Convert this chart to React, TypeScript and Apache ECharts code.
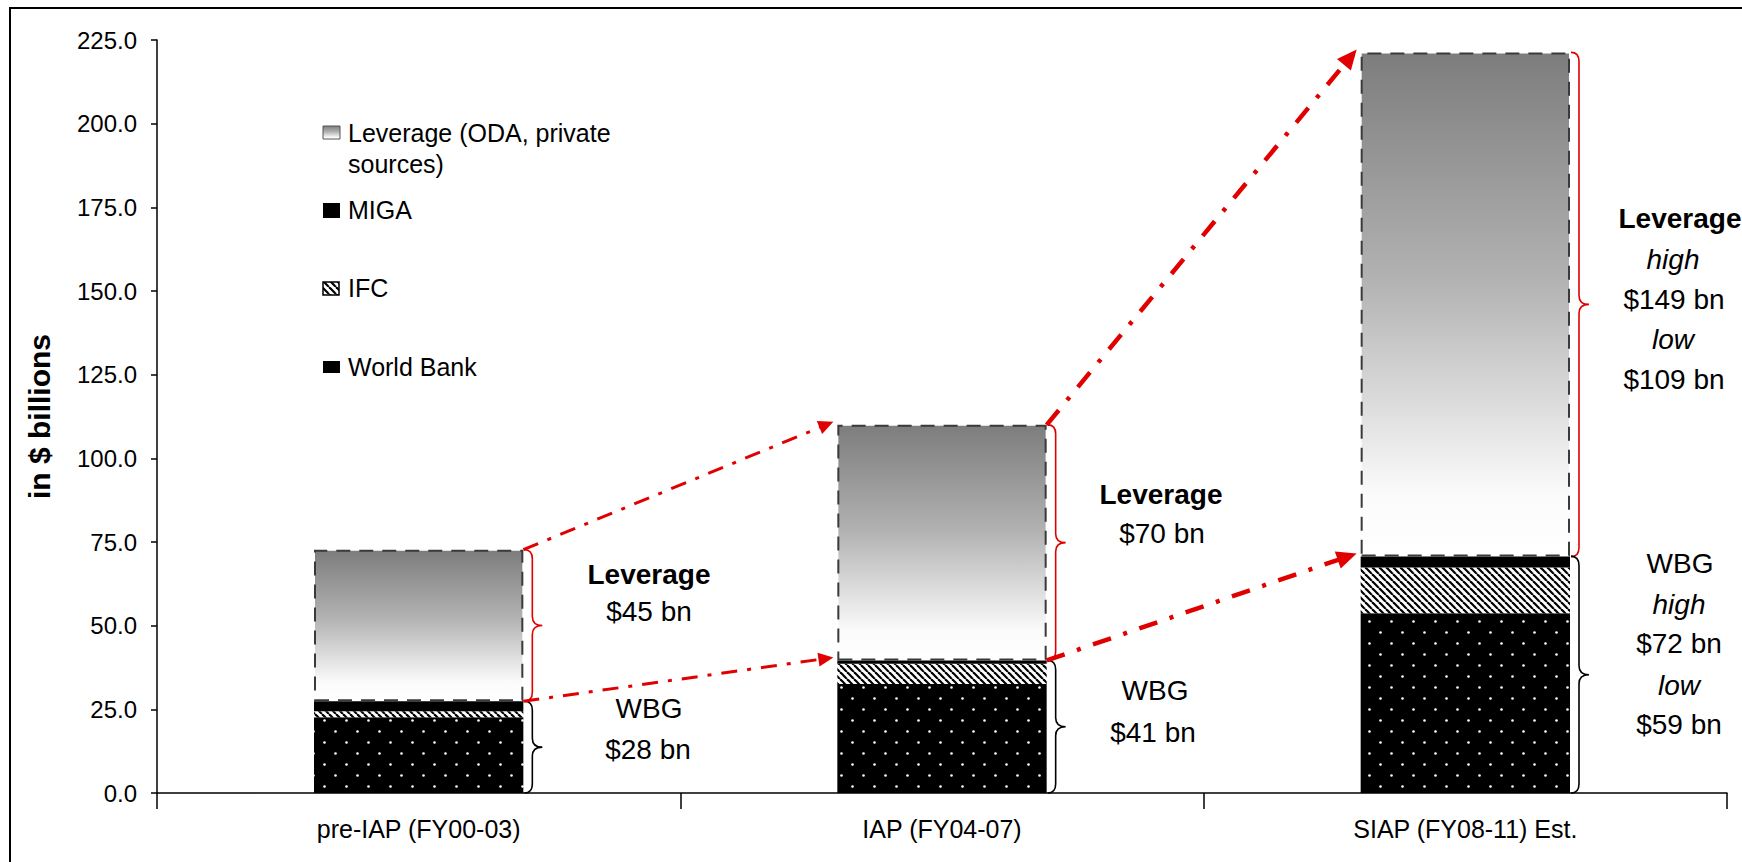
import React, { useEffect, useRef } from "react";
import * as echarts from "echarts";

// ---------- data ----------
const CATEGORIES = ["pre-IAP (FY00-03)", "IAP (FY04-07)", "SIAP (FY08-11) Est."];
const WORLD_BANK = [22.6, 32.6, 53.7];
const IFC = [1.8, 6.0, 13.7];
const MIGA = [3.0, 1.0, 3.3];
const LEVERAGE = [45.3, 70.4, 150.6];
const Y_MIN = 0;
const Y_MAX = 225;
const Y_INTERVAL = 25;
const LEGEND_LABELS = ["Leverage (ODA, private\nsources)", "MIGA", "IFC", "World Bank"];

const FONT = '"Liberation Sans", Arial, Helvetica, sans-serif';
const RED = "#e00000";
const BAR_FRAC = 0.4;

const wbgTop = WORLD_BANK.map((v, i) => v + IFC[i] + MIGA[i]);
const totalTop = wbgTop.map((v, i) => v + LEVERAGE[i]);

function makeDots(): HTMLCanvasElement {
  const c = document.createElement("canvas");
  c.width = 22;
  c.height = 22;
  const g = c.getContext("2d")!;
  g.fillStyle = "#000";
  g.fillRect(0, 0, 22, 22);
  g.fillStyle = "#fff";
  g.beginPath();
  g.arc(5.5, 5.5, 1.3, 0, Math.PI * 2);
  g.fill();
  g.beginPath();
  g.arc(16.5, 16.5, 1.3, 0, Math.PI * 2);
  g.fill();
  return c;
}

function makeHatch(): HTMLCanvasElement {
  const s = 7;
  const c = document.createElement("canvas");
  c.width = s;
  c.height = s;
  const g = c.getContext("2d")!;
  g.fillStyle = "#fff";
  g.fillRect(0, 0, s, s);
  g.strokeStyle = "#000";
  g.lineWidth = 2.2;
  for (const o of [-s, 0, s]) {
    g.beginPath();
    g.moveTo(o, 0);
    g.lineTo(o + s, s);
    g.stroke();
  }
  return c;
}

function leverageGradient() {
  return new echarts.graphic.LinearGradient(0, 0, 0, 1, [
    { offset: 0, color: "#7d7d7d" },
    { offset: 0.45, color: "#b2b2b2" },
    { offset: 0.88, color: "#fbfbfb" },
    { offset: 1, color: "#ffffff" },
  ]);
}

function braceRender(stroke: string) {
  return (params: any, api: any) => {
    const c = api.value(0);
    const lo = api.value(1);
    const hi = api.value(2);
    const bw = api.size([1, 0])[0] * BAR_FRAC;
    const pt = api.coord([c, hi]);
    const pb = api.coord([c, lo]);
    const x0 = pt[0] + bw / 2 + 1;
    const xm = x0 + 8;
    const xt = x0 + 18;
    const y1 = pt[1];
    const y2 = pb[1];
    const ym = (y1 + y2) / 2;
    const r = 9;
    const d =
      `M${x0},${y1} Q${xm},${y1} ${xm},${y1 + r} L${xm},${ym - r} ` +
      `Q${xm},${ym} ${xt},${ym} Q${xm},${ym} ${xm},${ym + r} ` +
      `L${xm},${y2 - r} Q${xm},${y2} ${x0},${y2}`;
    return {
      type: "path",
      shape: { pathData: d },
      style: { fill: "none", stroke, lineWidth: 1.6 },
    };
  };
}

function arrowRender(thick: boolean) {
  return (params: any, api: any) => {
    const fc = api.value(0);
    const fv = api.value(1);
    const tc = api.value(2);
    const tv = api.value(3);
    const bw = api.size([1, 0])[0] * BAR_FRAC;
    const p0 = api.coord([fc, fv]);
    const p1 = api.coord([tc, tv]);
    const x0 = p0[0] + bw / 2;
    const y0 = p0[1];
    const x1 = p1[0] - bw / 2 - 4;
    const y1 = p1[1] - 3;
    const dx = x1 - x0;
    const dy = y1 - y0;
    const L = Math.hypot(dx, dy);
    const ux = dx / L;
    const uy = dy / L;
    const hl = thick ? 20 : 15;
    const hw = thick ? 9 : 7;
    const bx = x1 - ux * hl;
    const by = y1 - uy * hl;
    return {
      type: "group",
      children: [
        {
          type: "line",
          shape: { x1: x0, y1: y0, x2: bx + ux * 2, y2: by + uy * 2 },
          style: {
            stroke: RED,
            lineWidth: thick ? 4.5 : 3,
            lineDash: thick ? [19, 13, 4, 13] : [16, 10, 4, 10],
            fill: null,
          },
        },
        {
          type: "polygon",
          shape: {
            points: [
              [x1, y1],
              [bx - uy * hw, by + ux * hw],
              [bx + uy * hw, by - ux * hw],
            ],
          },
          style: { fill: RED },
        },
      ],
    };
  };
}

function txt(x: number, y: number, text: string, font: string, align = "center") {
  return {
    type: "text",
    x,
    y,
    silent: true,
    z: 20,
    style: {
      text,
      font,
      fill: "#000",
      textAlign: align,
      textVerticalAlign: "middle",
    },
  };
}

export default function App() {
  const ref = useRef<HTMLDivElement>(null);

  useEffect(() => {
    if (!ref.current) return;
    const chart = echarts.init(ref.current, undefined, { renderer: "svg" });
    const dots = makeDots();
    const hatch = makeHatch();
    const dotPattern: any = { image: dots, repeat: "repeat", imageWidth: 22, imageHeight: 22 };
    const hatchPattern: any = { image: hatch, repeat: "repeat", imageWidth: 7, imageHeight: 7 };

    const normal = `25px ${FONT}`;
    const ann = `28px ${FONT}`;
    const annI = `italic 28px ${FONT}`;
    const annB = `bold 28px ${FONT}`;

    const legendX = 323;
    const legendTextX = 348;
    const graphic: any[] = [
      {
        type: "rect",
        silent: true,
        z: 0,
        shape: { x: 10, y: 8, width: 1800, height: 900 },
        style: { fill: "none", stroke: "#000", lineWidth: 2 },
      },
      // legend
      {
        type: "rect",
        z: 20,
        shape: { x: legendX, y: 126, width: 17, height: 13 },
        style: { fill: leverageGradient(), stroke: "#555", lineWidth: 1 },
      },
      {
        type: "rect",
        z: 20,
        shape: { x: legendX, y: 203, width: 17, height: 15 },
        style: { fill: "#000" },
      },
      {
        type: "rect",
        z: 20,
        shape: { x: legendX, y: 282, width: 16, height: 13 },
        style: { fill: hatchPattern, stroke: "#000", lineWidth: 1.5 },
      },
      {
        type: "rect",
        z: 20,
        shape: { x: legendX, y: 361, width: 17, height: 12 },
        style: { fill: "#000" },
      },
      {
        type: "text",
        x: legendTextX,
        y: 117,
        z: 20,
        style: {
          text: LEGEND_LABELS[0],
          font: normal,
          fill: "#000",
          lineHeight: 31,
          textAlign: "left",
          textVerticalAlign: "top",
        },
      },
      txt(legendTextX, 210, LEGEND_LABELS[1], normal, "left"),
      txt(legendTextX, 288, LEGEND_LABELS[2], normal, "left"),
      txt(legendTextX, 367, LEGEND_LABELS[3], normal, "left"),
      // annotations bar 1
      txt(649, 574, "Leverage", annB),
      txt(649, 611, "$45 bn", ann),
      txt(649, 708, "WBG", ann),
      txt(648, 749, "$28 bn", ann),
      // bar 2
      txt(1161, 494, "Leverage", annB),
      txt(1162, 533, "$70 bn", ann),
      txt(1155, 690, "WBG", ann),
      txt(1153, 732, "$41 bn", ann),
      // bar 3
      txt(1680, 218, "Leverage", annB),
      txt(1673, 259, "high", annI),
      txt(1674, 299, "$149 bn", ann),
      txt(1673, 339, "low", annI),
      txt(1674, 379, "$109 bn", ann),
      txt(1680, 563, "WBG", ann),
      txt(1679, 604, "high", annI),
      txt(1679, 643, "$72 bn", ann),
      txt(1679, 685, "low", annI),
      txt(1679, 724, "$59 bn", ann),
    ];

    const cats = CATEGORIES.map((_, i) => i);

    chart.setOption({
      animation: false,
      backgroundColor: "#fff",
      textStyle: { fontFamily: FONT },
      grid: { left: 157, right: 15, top: 40, bottom: 69, containLabel: false },
      xAxis: {
        type: "category",
        data: CATEGORIES,
        axisLine: { lineStyle: { color: "#000", width: 1.5 } },
        axisTick: { show: true, length: 16, inside: false, lineStyle: { color: "#000", width: 1.5 } },
        axisLabel: { color: "#000", fontSize: 25, fontFamily: FONT, margin: 23 },
      },
      yAxis: {
        type: "value",
        min: Y_MIN,
        max: Y_MAX,
        interval: Y_INTERVAL,
        name: "in $ billions",
        nameLocation: "middle",
        nameRotate: 90,
        nameGap: 103,
        nameTextStyle: { color: "#000", fontSize: 30, fontWeight: "bold", fontFamily: FONT },
        axisLine: { show: true, lineStyle: { color: "#000", width: 1.5 } },
        axisTick: { show: true, length: 6, lineStyle: { color: "#000", width: 1.5 } },
        axisLabel: {
          color: "#000",
          fontSize: 24,
          fontFamily: FONT,
          margin: 20,
          formatter: (v: number) => v.toFixed(1),
        },
        splitLine: { show: false },
      },
      series: [
        {
          name: "World Bank",
          type: "bar",
          stack: "total",
          barWidth: BAR_FRAC * 100 + "%",
          data: WORLD_BANK,
          itemStyle: { color: dotPattern },
        },
        {
          name: "IFC",
          type: "bar",
          stack: "total",
          data: IFC,
          itemStyle: { color: hatchPattern },
        },
        {
          name: "MIGA",
          type: "bar",
          stack: "total",
          data: MIGA,
          itemStyle: { color: "#000" },
        },
        {
          name: "Leverage (ODA, private sources)",
          type: "bar",
          stack: "total",
          data: LEVERAGE,
          itemStyle: {
            color: leverageGradient(),
            borderColor: "#3a3a3a",
            borderWidth: 2,
            borderType: [14, 9],
          },
        },
        {
          name: "Leverage brace",
          type: "custom",
          z: 6,
          renderItem: braceRender(RED),
          encode: { x: 0, y: [1, 2] },
          data: cats.map((i) => [i, wbgTop[i], totalTop[i]]),
        },
        {
          name: "WBG brace",
          type: "custom",
          z: 6,
          renderItem: braceRender("#000"),
          encode: { x: 0, y: [1, 2] },
          data: cats.map((i) => [i, 0, wbgTop[i]]),
        },
        {
          name: "Arrows IAP",
          type: "custom",
          z: 7,
          renderItem: arrowRender(false),
          encode: { x: 0, y: 1 },
          data: [
            [0, totalTop[0], 1, totalTop[1]],
            [0, wbgTop[0], 1, wbgTop[1]],
          ],
        },
        {
          name: "Arrows SIAP",
          type: "custom",
          z: 7,
          renderItem: arrowRender(true),
          encode: { x: 0, y: 1 },
          data: [
            [1, totalTop[1], 2, totalTop[2]],
            [1, wbgTop[1], 2, wbgTop[2]],
          ],
        },
      ],
      graphic,
    });

    return () => chart.dispose();
  }, []);

  return (
    <div
      ref={ref}
      style={{ position: "absolute", left: 0, top: 0, width: 1742, height: 862, background: "#fff" }}
    />
  );
}
